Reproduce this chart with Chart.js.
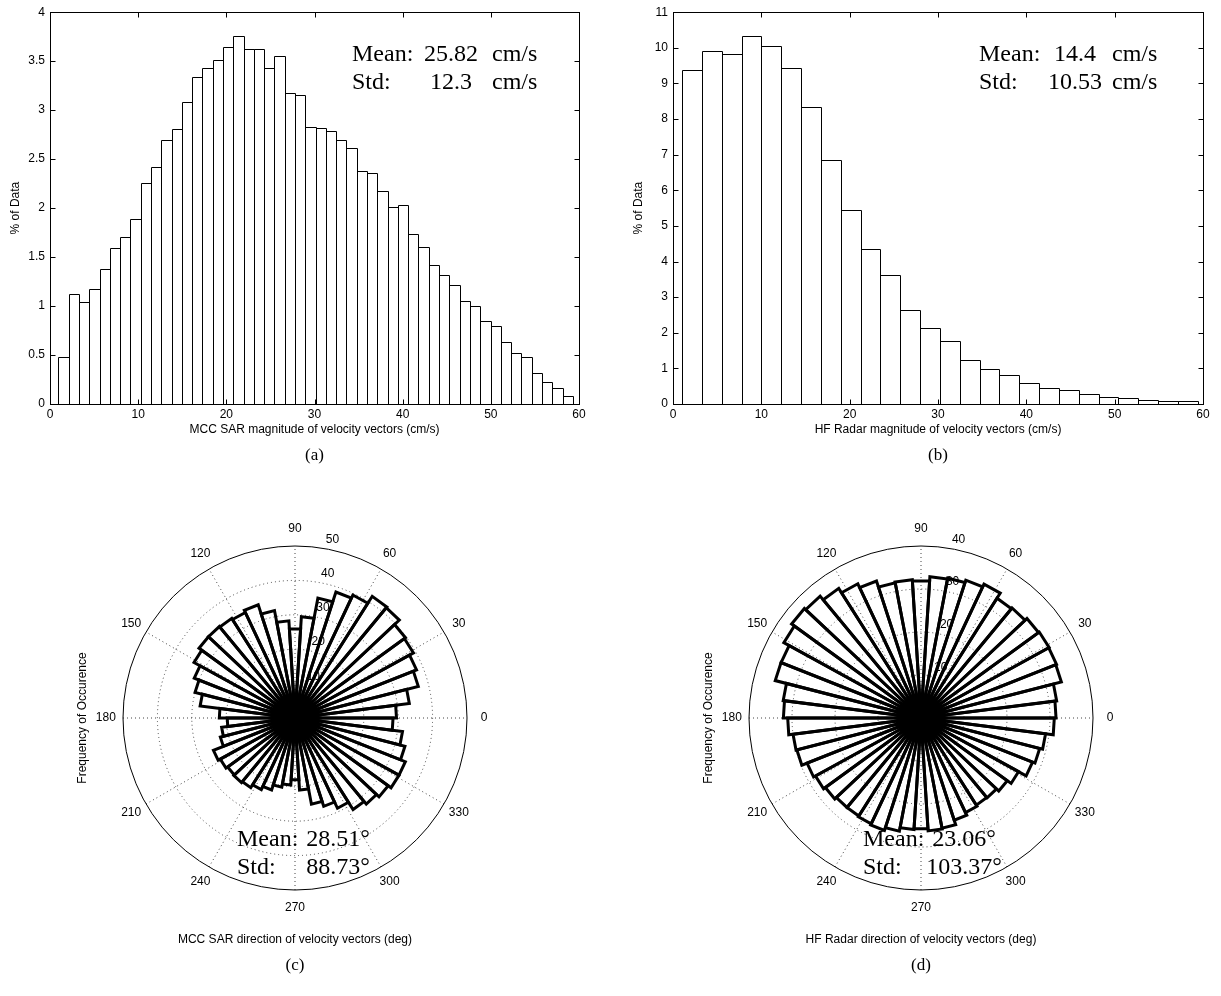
<!DOCTYPE html>
<html lang="en">
<head>
<meta charset="UTF-8">
<title>Velocity vectors: MCC SAR vs HF Radar</title>
<style>
  body { margin: 0; background: #fff; width: 1221px; height: 996px; overflow: hidden; }
  canvas { position: absolute; }
</style>
</head>
<body>
<canvas id="sarMag" style="left:0;top:0" width="610" height="470"></canvas>
<canvas id="hfMag" style="left:610px;top:0" width="611" height="470"></canvas>
<canvas id="sarDir" style="left:0;top:470px" width="610" height="526"></canvas>
<canvas id="hfDir" style="left:610px;top:470px" width="611" height="526"></canvas>

<script src="https://cdn.jsdelivr.net/npm/chart.js"></script>
<script>
// ---- magnitude histograms (% of data per bin) ----
const sarMagRange = [0.95, 59.3];   // outer bin edges, cm/s
const sarMagPct = [
  0.48, 1.12, 1.045, 1.17, 1.38, 1.595, 1.71, 1.89, 2.256, 2.416,
  2.697, 2.806, 3.08, 3.342, 3.43, 3.51, 3.64, 3.76, 3.62, 3.62,
  3.43, 3.55, 3.18, 3.15, 2.83, 2.82, 2.79, 2.70, 2.61, 2.38,
  2.36, 2.17, 2.015, 2.03, 1.737, 1.60, 1.42, 1.32, 1.22, 1.055,
  1.004, 0.845, 0.794, 0.638, 0.519, 0.482, 0.312, 0.22, 0.16, 0.078
];
const hfMagRange = [1.02, 59.4];
const hfMagPct = [
  9.39, 9.92, 9.83, 10.34, 10.04, 9.43, 8.33, 6.84, 5.44, 4.36,
  3.61, 2.64, 2.135, 1.78, 1.24, 0.98, 0.805, 0.58, 0.45, 0.39,
  0.29, 0.19, 0.16, 0.11, 0.075, 0.075
];

// ---- direction roses: 50 sectors of 7.2 deg, counter-clockwise from 0 deg ----
const sarDirCount = [
  29.5, 33.5, 37.0, 38.0, 39.3, 39.7, 41.6, 41.9, 39.5, 38.5,
  35.5, 29.5, 25.9, 28.3, 31.8, 34.6, 33.9, 34.3, 34.5, 34.5,
  33.5, 31.5, 30.0, 27.8, 22.0, 19.7, 21.5, 22.4, 25.5, 24.8,
  24.2, 24.4, 24.0, 23.0, 22.0, 20.5, 19.5, 18.0, 21.0, 25.5,
  27.0, 29.0, 31.5, 32.5, 33.5, 34.5, 34.5, 33.0, 31.5, 28.5
];
const hfDirCount = [
  31.4, 31.8, 33.7, 33.9, 34.0, 33.8, 33.2, 33.0, 34.4, 33.7,
  33.1, 32.9, 31.9, 32.2, 32.0, 33.5, 34.5, 35.7, 36.8, 37.2,
  36.4, 35.0, 35.0, 32.3, 32.0, 31.0, 30.0, 29.8, 28.5, 28.0,
  27.5, 27.0, 27.0, 27.2, 27.5, 26.8, 26.0, 25.8, 26.3, 26.1,
  25.0, 24.3, 24.0, 24.1, 24.8, 25.9, 27.9, 28.5, 29.2, 31.0
];
const compassTicks = [0, 30, 60, 90, 120, 150, 180, 210, 240, 270, 300, 330];

// ---- annotations ----
const sarMagStats = [['Mean:', '25.82', 'cm/s'], ['Std:', '12.3', 'cm/s']];
const hfMagStats = [['Mean:', '14.4', 'cm/s'], ['Std:', '10.53', 'cm/s']];
const sarDirStats = [['Mean:', '28.51°'], ['Std:', '88.73°']];
const hfDirStats = [['Mean:', '23.06°'], ['Std:', '103.37°']];

const SANS = '"Liberation Sans", Arial, Helvetica, sans-serif';
const SERIF = '"Liberation Serif", "Times New Roman", serif';
Chart.defaults.font.family = SANS;
Chart.defaults.font.size = 12;
Chart.defaults.color = '#000';

function binCenters(range, n) {
  const w = (range[1] - range[0]) / n;
  return Array.from({ length: n }, (_, i) => range[0] + (i + 0.5) * w);
}

// two-line "Mean / Std" block, middle column centred
function drawStats(ctx, cols, y0, rows) {
  ctx.font = '24px ' + SERIF;
  ctx.textBaseline = 'alphabetic';
  rows.forEach((row, i) => {
    const y = y0 + i * 28;
    ctx.textAlign = 'left';
    ctx.fillText(row[0], cols[0], y);
    ctx.textAlign = 'center';
    ctx.fillText(row[1], cols[1], y);
    if (row[2]) {
      ctx.textAlign = 'left';
      ctx.fillText(row[2], cols[2], y);
    }
  });
}

function drawLabels(ctx, o, cx, ylabelX, ylabelY, xlabelY) {
  ctx.fillStyle = '#000';
  ctx.font = '12px ' + SANS;
  ctx.textAlign = 'center';
  ctx.textBaseline = 'middle';
  ctx.fillText(o.xlabel, cx, xlabelY);
  ctx.save();
  ctx.translate(ylabelX, ylabelY);
  ctx.rotate(-Math.PI / 2);
  ctx.fillText(o.ylabel, 0, 0);
  ctx.restore();
  ctx.font = '17px ' + SERIF;
  ctx.fillText(o.caption, cx, xlabelY + 26);
}

// bar outlines, boxed frame with inward ticks on all sides, texts
const boxAxes = {
  id: 'boxAxes',
  afterDatasetsDraw(chart, args, o) {
    const { ctx, chartArea: a, scales: { x, y } } = chart;
    const px = v => Math.round(v) + 0.5;
    ctx.save();
    ctx.strokeStyle = '#000';
    ctx.lineWidth = 1;

    ctx.beginPath();
    chart.getDatasetMeta(0).data.forEach(bar => {
      const p = bar.getProps(['x', 'y', 'base', 'width'], true);
      const l = px(p.x - p.width / 2), r = px(p.x + p.width / 2), t = px(p.y);
      ctx.moveTo(l, p.base);
      ctx.lineTo(l, t);
      ctx.lineTo(r, t);
      ctx.lineTo(r, p.base);
    });
    ctx.stroke();

    const L = px(a.left), R = px(a.right), T = px(a.top), B = px(a.bottom);
    ctx.strokeRect(L, T, R - L, B - T);
    ctx.beginPath();
    x.ticks.forEach(t => {
      const p = px(x.getPixelForValue(t.value));
      ctx.moveTo(p, B); ctx.lineTo(p, B - 5);
      ctx.moveTo(p, T); ctx.lineTo(p, T + 5);
    });
    y.ticks.forEach(t => {
      const p = px(y.getPixelForValue(t.value));
      ctx.moveTo(L, p); ctx.lineTo(L + 5, p);
      ctx.moveTo(R, p); ctx.lineTo(R - 5, p);
    });
    ctx.stroke();

    const cx = (a.left + a.right) / 2;
    drawLabels(ctx, o, cx, a.left - 34, (a.top + a.bottom) / 2, a.bottom + 26);
    drawStats(ctx, o.statsCols.map(c => a.right + c), a.top + 49, o.stats);
    ctx.restore();
  }
};

function histogram(id, pct, range, yMax, yStep, padding, o) {
  const xs = binCenters(range, pct.length);
  return new Chart(document.getElementById(id), {
    type: 'bar',
    data: {
      datasets: [{
        data: pct.map((v, i) => ({ x: xs[i], y: v })),
        backgroundColor: '#fff',
        borderWidth: 0,
        barPercentage: 1,
        categoryPercentage: 1
      }]
    },
    options: {
      responsive: false,
      animation: false,
      events: [],
      layout: { padding },
      plugins: { legend: { display: false }, tooltip: { enabled: false }, boxAxes: o },
      scales: {
        x: {
          type: 'linear', min: 0, max: 60, offset: false,
          grid: { display: false, drawTicks: false },
          border: { display: false },
          ticks: { stepSize: 10, padding: 3, maxRotation: 0, autoSkip: false },
          afterFit: s => { s.height = 20; }
        },
        y: {
          min: 0, max: yMax,
          grid: { display: false, drawTicks: false },
          border: { display: false },
          ticks: { stepSize: yStep, padding: 5, autoSkip: false, callback: v => String(v) },
          afterFit: s => { s.width = 40; }
        }
      }
    },
    plugins: [boxAxes]
  });
}

// polar grid: dotted rings and spokes, solid rim, angle and radius labels
const roseGrid = {
  id: 'roseGrid',
  beforeDatasetsDraw(chart, args, o) {
    const { ctx } = chart;
    const r = chart.scales.r;
    const cx = r.xCenter, cy = r.yCenter, R = r.drawingArea;
    const rad = d => d * Math.PI / 180;
    ctx.save();
    ctx.strokeStyle = '#444';
    ctx.lineWidth = 1;
    ctx.setLineDash([1, 3]);
    for (let d = 0; d < 180; d += 30) {
      const c = Math.cos(rad(d)), s = Math.sin(rad(d));
      ctx.beginPath();
      ctx.moveTo(cx - R * c, cy + R * s);
      ctx.lineTo(cx + R * c, cy - R * s);
      ctx.stroke();
    }
    for (let v = o.step; v < r.max; v += o.step) {
      ctx.beginPath();
      ctx.arc(cx, cy, r.getDistanceFromCenterForValue(v), 0, 2 * Math.PI);
      ctx.stroke();
    }
    ctx.setLineDash([]);
    ctx.strokeStyle = '#000';
    ctx.beginPath();
    ctx.arc(cx, cy, R, 0, 2 * Math.PI);
    ctx.stroke();

    ctx.fillStyle = '#000';
    ctx.font = '12px ' + SANS;
    ctx.textAlign = 'center';
    ctx.textBaseline = 'middle';
    compassTicks.forEach(d => {
      ctx.fillText(String(d), cx + 1.1 * R * Math.cos(rad(d)), cy - 1.1 * R * Math.sin(rad(d)));
    });
    ctx.textAlign = 'left';
    ctx.textBaseline = 'bottom';
    for (let v = o.step; v <= r.max; v += o.step) {
      const dist = r.getDistanceFromCenterForValue(v + o.step / 20);
      ctx.fillText('  ' + v, cx + dist * Math.cos(rad(82)), cy - dist * Math.sin(rad(82)));
    }
    ctx.restore();
  },
  afterDatasetsDraw(chart, args, o) {
    const { ctx } = chart;
    const r = chart.scales.r;
    const cx = r.xCenter, cy = r.yCenter;
    ctx.save();
    drawLabels(ctx, o, cx, cx - 212, cy, cy + 222);
    drawStats(ctx, [cx - 58, cx + 43], cy + 128, o.stats);
    ctx.restore();
  }
};

function rose(id, counts, rMax, padding, o) {
  return new Chart(document.getElementById(id), {
    type: 'polarArea',
    data: {
      labels: counts.map((_, i) => String(i)),
      // chart.js sweeps clockwise, the rose runs counter-clockwise
      datasets: [{
        data: counts.slice().reverse(),
        backgroundColor: 'rgba(0,0,0,0)',
        borderColor: '#000',
        borderWidth: 3,
        borderJoinStyle: 'miter',
        circular: false
      }]
    },
    options: {
      responsive: false,
      animation: false,
      events: [],
      layout: { padding },
      plugins: { legend: { display: false }, tooltip: { enabled: false }, roseGrid: o },
      scales: {
        r: {
          min: 0, max: rMax, startAngle: 90,
          ticks: { display: false, stepSize: 10 },
          grid: { display: false },
          angleLines: { display: false },
          pointLabels: { display: false }
        }
      }
    },
    plugins: [roseGrid]
  });
}

histogram('sarMag', sarMagPct, sarMagRange, 4, 0.5,
  { left: 10, top: 11, right: 31, bottom: 46 },
  { xlabel: 'MCC SAR magnitude of velocity vectors (cm/s)', ylabel: '% of Data', caption: '(a)',
    stats: sarMagStats, statsCols: [-227, -128, -87] });

histogram('hfMag', hfMagPct, hfMagRange, 11, 1,
  { left: 23, top: 11, right: 18, bottom: 46 },
  { xlabel: 'HF Radar magnitude of velocity vectors (cm/s)', ylabel: '% of Data', caption: '(b)',
    stats: hfMagStats, statsCols: [-224, -128, -91] });

rose('sarDir', sarDirCount, 50,
  { left: 123, top: 76, right: 143, bottom: 106 },
  { step: 10, xlabel: 'MCC SAR direction of velocity vectors (deg)', ylabel: 'Frequency of Occurence',
    caption: '(c)', stats: sarDirStats });

rose('hfDir', hfDirCount, 40,
  { left: 139, top: 76, right: 128, bottom: 106 },
  { step: 10, xlabel: 'HF Radar direction of velocity vectors (deg)', ylabel: 'Frequency of Occurence',
    caption: '(d)', stats: hfDirStats });
</script>
</body>
</html>
